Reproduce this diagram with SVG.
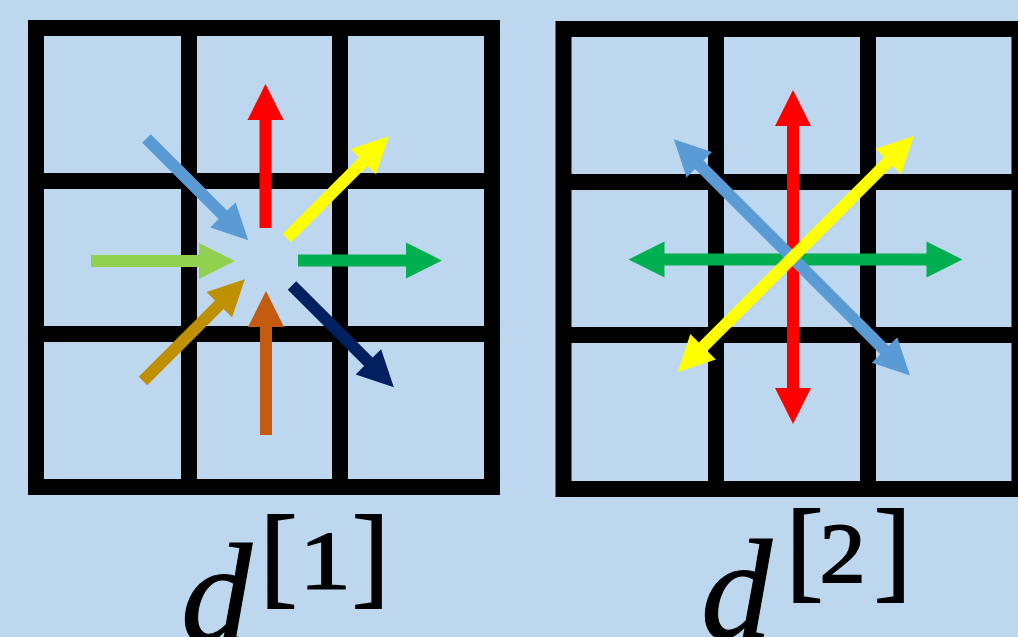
<svg xmlns="http://www.w3.org/2000/svg" width="1018" height="637" viewBox="0 0 1018 637">
<style>
.grid{fill:none;stroke:#000;stroke-width:16}
.lbl{font-family:"Liberation Serif","Times New Roman",serif;fill:#000;stroke:#000;stroke-width:1.8}
.it{font-style:italic;stroke-width:1}
.mid{text-anchor:middle}
</style>
<defs>
<path id="a1" d="M0,-6 H108 V-18 L144,0 L108,18 V6 H0 Z"/>
<path id="a2" d="M-167,0 L-131,-18 V-6 H131 V-18 L167,0 L131,18 V6 H-131 V18 Z"/>
</defs>
<rect width="1018" height="637" fill="#BDD7EE"/>
<g id="grid1">
<rect class="grid" x="36" y="28" width="456" height="459"/>
<path class="grid" d="M189,28 V487 M340,28 V487 M36,181 H492 M36,334 H492"/>
</g>
<g id="grid2">
<rect class="grid" x="563.5" y="29" width="456" height="460"/>
<path class="grid" d="M716,29 V489 M868,29 V489 M563.5,182 H1019.5 M563.5,335 H1019.5"/>
</g>
<g id="connectors">
<g id="arrows1">
<use href="#a1" fill="#FF0000" transform="translate(265.5,228) rotate(-90)"/>
<use href="#a1" fill="#00B050" transform="translate(298,260.5)"/>
<use href="#a1" fill="#92D050" transform="translate(91,261)"/>
<use href="#a1" fill="#C55A11" transform="translate(266,435) rotate(-90)"/>
<use href="#a1" fill="#5B9BD5" transform="translate(146.5,138.5) rotate(45)"/>
<use href="#a1" fill="#FFFF00" transform="translate(287,238) rotate(-45)"/>
<use href="#a1" fill="#BF9000" transform="translate(143,381) rotate(-45)"/>
<use href="#a1" fill="#002060" transform="translate(292,285.5) rotate(45)"/>
</g>
<g id="arrows2">
<use href="#a2" fill="#00B050" transform="translate(795.5,259.5)"/>
<use href="#a2" fill="#FF0000" transform="translate(793,257) rotate(90)"/>
<use href="#a2" fill="#5B9BD5" transform="translate(791.9,257.3) rotate(45)"/>
<use href="#a2" fill="#FFFF00" transform="translate(795.7,254.2) rotate(-45)"/>
</g>
</g>
<g id="label1">
<text class="lbl it" x="181" y="642" font-size="142">d</text>
<text class="lbl" x="260" y="593" font-size="112">[</text>
<text class="lbl mid" transform="translate(325,588) scale(1.25,1)" font-size="82">1</text>
<text class="lbl" x="352" y="593" font-size="112">]</text>
</g>
<g id="label2">
<text class="lbl it" x="701" y="638" font-size="142">d</text>
<text class="lbl" x="786" y="587" font-size="112">[</text>
<text class="lbl mid" transform="translate(842.5,582) scale(1.1,1)" font-size="84">2</text>
<text class="lbl" x="874" y="587" font-size="112">]</text>
</g>
</svg>
